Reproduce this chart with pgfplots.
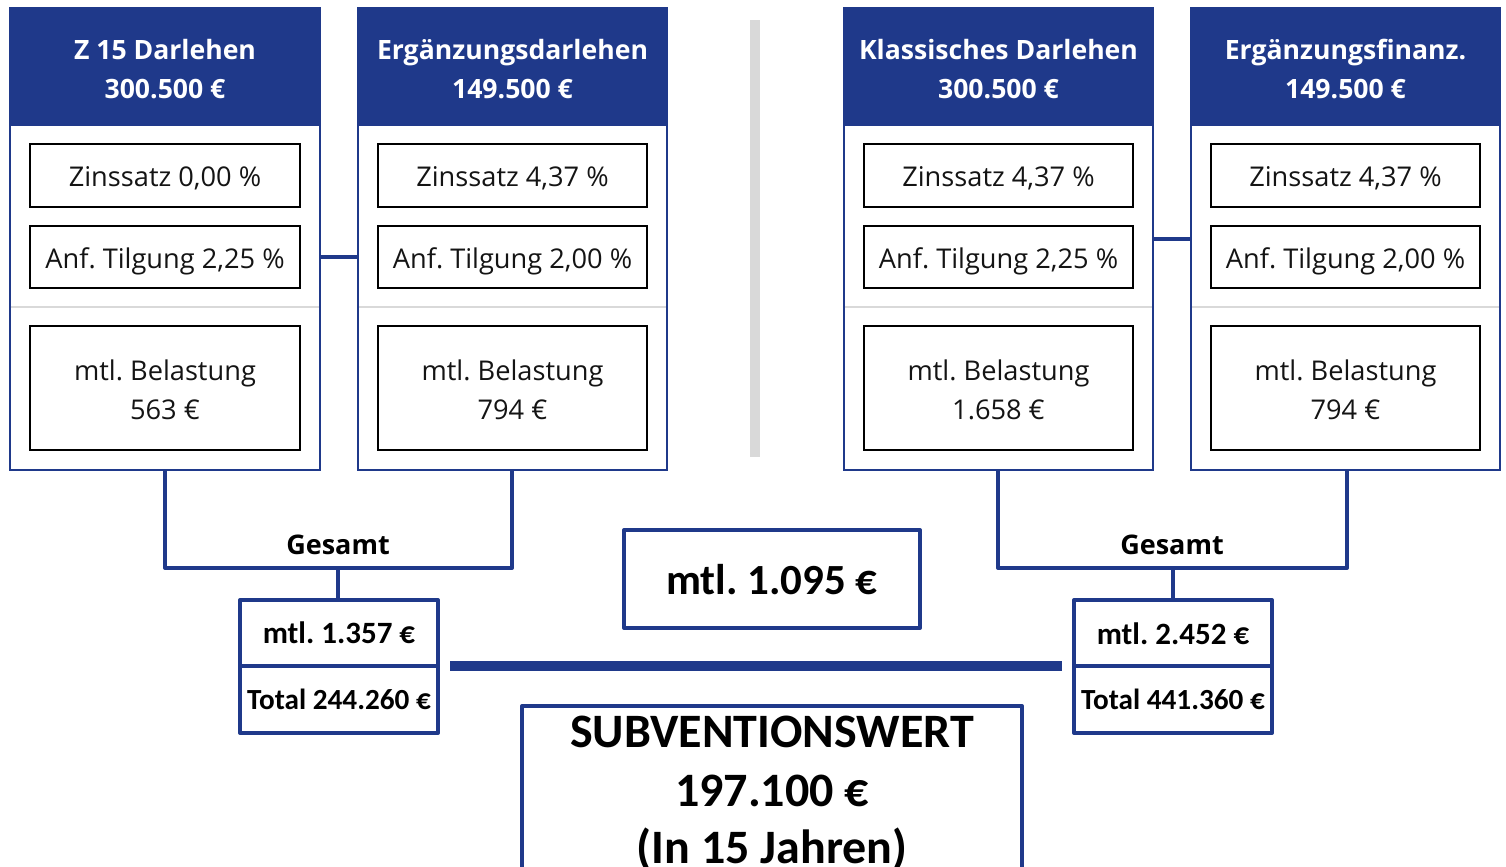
\documentclass[border=0pt]{standalone}
\usepackage{pgfplots}
\pgfplotsset{compat=1.18}
\usepackage{fontspec}
\setmainfont{Open Sans}
\newfontfamily\os{Open Sans}
\newfontfamily\cb{Carlito}
\definecolor{dblue}{RGB}{31,57,138}
\definecolor{lgray}{RGB}{217,217,217}
\definecolor{txt}{RGB}{20,20,20}
\frenchspacing

% panel: x0, x1, center, title1, title2, zins, tilgung, belastung
\newcommand\panel[8]{%
  \fill[dblue] (axis cs:#1,8) rectangle (axis cs:#2,126);
  \draw[dblue, line width=1pt] (axis cs:#1,8) rectangle (axis cs:#2,470);
  \draw[lgray, line width=1.25pt] (axis cs:#1+1,307) -- (axis cs:#2-1,307);
  \draw[black, line width=1.25pt] (axis cs:#1+20,144) rectangle (axis cs:#2-20,207);
  \draw[black, line width=1.25pt] (axis cs:#1+20,226) rectangle (axis cs:#2-20,288);
  \draw[black, line width=1.25pt] (axis cs:#1+20,326) rectangle (axis cs:#2-20,450);
  \node[anchor=base, text=white, font=\os\bfseries\fontsize{13.3}{15}\selectfont] at (axis cs:#3,59) {#4};
  \node[anchor=base, text=white, font=\os\bfseries\fontsize{13.3}{15}\selectfont] at (axis cs:#3,98) {#5};
  \node[anchor=base, text=txt, font=\os\fontsize{13.6}{16}\selectfont] at (axis cs:#3,186) {#6};
  \node[anchor=base, text=txt, font=\os\fontsize{13.6}{16}\selectfont] at (axis cs:#3,268) {#7};
  \node[anchor=base, text=txt, font=\os\fontsize{13.6}{16}\selectfont] at (axis cs:#3,380) {mtl. Belastung};
  \node[anchor=base, text=txt, font=\os\fontsize{13.6}{16}\selectfont] at (axis cs:#3,419) {#8};
}

\begin{document}
\begin{tikzpicture}
\begin{axis}[hide axis, scale only axis, width=753pt, height=433.5pt,
  xmin=0, xmax=1506, ymin=0, ymax=867, y dir=reverse, clip=false]
% separator
\draw[lgray, line width=5pt] (axis cs:755,20) -- (axis cs:755,457);
% connectors between panels
\draw[dblue, line width=2pt] (axis cs:320,257) -- (axis cs:358,257);
\draw[dblue, line width=2pt] (axis cs:1153,239) -- (axis cs:1191,239);
\panel{10}{320}{165}{Z 15 Darlehen}{300.500 €}{Zinssatz 0,00 \%}{Anf. Tilgung 2,25 \%}{563 €}
\panel{358}{667}{512.5}{Ergänzungsdarlehen}{149.500 €}{Zinssatz 4,37 \%}{Anf. Tilgung 2,00 \%}{794 €}
\panel{844}{1153}{998.5}{Klassisches Darlehen}{300.500 €}{Zinssatz 4,37 \%}{Anf. Tilgung 2,25 \%}{1.658 €}
\panel{1191}{1500}{1345.5}{Ergänzungsfinanz.}{149.500 €}{Zinssatz 4,37 \%}{Anf. Tilgung 2,00 \%}{794 €}
% lower left tree
\draw[dblue, line width=2pt, line join=round] (axis cs:165,470) -- (axis cs:165,568) -- (axis cs:512,568) -- (axis cs:512,470);
\draw[dblue, line width=2pt] (axis cs:338,568) -- (axis cs:338,600);
\node[anchor=base, font=\os\bfseries\fontsize{13.5}{15}\selectfont] at (axis cs:338,554) {Gesamt};
\draw[dblue, line width=2pt, line join=round] (axis cs:240,600) rectangle (axis cs:438,733);
\draw[dblue, line width=2pt] (axis cs:240,666) -- (axis cs:438,666);
\node[anchor=base, font=\cb\bfseries\fontsize{15.5}{18}\selectfont] at (axis cs:339,643) {mtl. 1.357 €};
\node[anchor=base, font=\cb\bfseries\fontsize{14.6}{17}\selectfont] at (axis cs:339,709) {Total 244.260 €};
% lower right tree
\draw[dblue, line width=2pt, line join=round] (axis cs:998,470) -- (axis cs:998,568) -- (axis cs:1347,568) -- (axis cs:1347,470);
\draw[dblue, line width=2pt] (axis cs:1173,568) -- (axis cs:1173,600);
\node[anchor=base, font=\os\bfseries\fontsize{13.5}{15}\selectfont] at (axis cs:1172,554) {Gesamt};
\draw[dblue, line width=2pt, line join=round] (axis cs:1074,600) rectangle (axis cs:1272,733);
\draw[dblue, line width=2pt] (axis cs:1074,666) -- (axis cs:1272,666);
\node[anchor=base, font=\cb\bfseries\fontsize{15.5}{18}\selectfont] at (axis cs:1173,644) {mtl. 2.452 €};
\node[anchor=base, font=\cb\bfseries\fontsize{14.6}{17}\selectfont] at (axis cs:1173,709) {Total 441.360 €};
% middle
\draw[dblue, line width=2pt, line join=round] (axis cs:624,530) rectangle (axis cs:920,628);
\node[anchor=base, font=\cb\bfseries\fontsize{21.5}{26}\selectfont] at (axis cs:772,594) {mtl. 1.095 €};
\draw[dblue, line width=5pt] (axis cs:450,666) -- (axis cs:1062,666);
\draw[dblue, line width=2pt, line join=round] (axis cs:522,880) -- (axis cs:522,706) -- (axis cs:1022,706) -- (axis cs:1022,880);
\node[anchor=base, font=\cb\bfseries\fontsize{24}{28}\selectfont] at (axis cs:772,747) {SUBVENTIONSWERT};
\node[anchor=base, font=\cb\bfseries\fontsize{24}{28}\selectfont] at (axis cs:772,806) {197.100 €};
\node[anchor=base, font=\cb\bfseries\fontsize{24}{28}\selectfont] at (axis cs:772,863) {(In 15 Jahren)};
\end{axis}
\pgfresetboundingbox
\path (current axis.south west) rectangle (current axis.north east);
\end{tikzpicture}
\end{document}
